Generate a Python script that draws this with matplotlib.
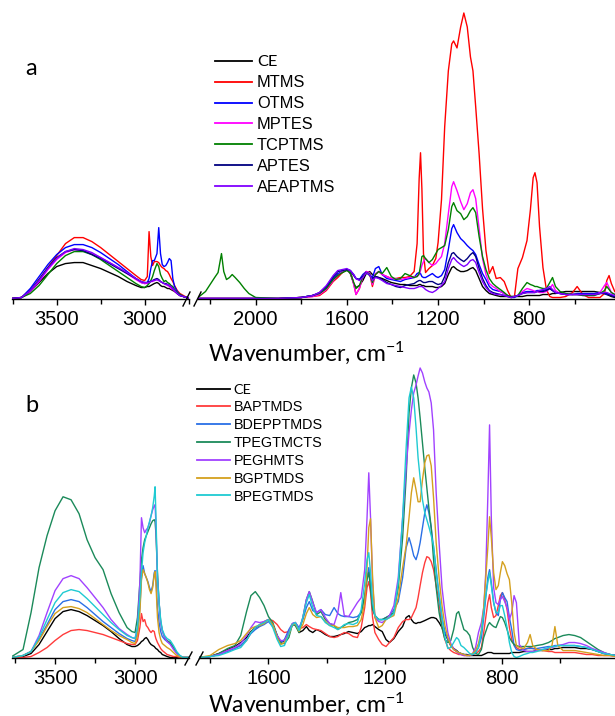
import matplotlib
matplotlib.use("Agg")
import matplotlib.pyplot as plt
from matplotlib.lines import Line2D
from matplotlib.ticker import FixedLocator

plt.rcParams["font.family"] = ["Liberation Sans", "DejaVu Sans"]
plt.rcParams["mathtext.fontset"] = "custom"
plt.rcParams["mathtext.rm"] = "Lato"
plt.rcParams["mathtext.it"] = "Lato:italic"

W_PX, H_PX = 615, 716

# ---------------- panel a ----------------
A_NAMES = ["CE", "MTMS", "OTMS", "MPTES", "TCPTMS", "APTES", "AEAPTMS"]
A_COLORS = ["#000000", "#ff0000", "#0000ff", "#ff00ff", "#008000", "#000080", "#8000ff"]

A_LEFT_WN = [3754, 3700, 3650, 3600, 3550, 3500, 3450, 3400, 3350, 3300,
             3250, 3200, 3150, 3100, 3050, 3020, 3000, 2985, 2975, 2965,
             2955, 2945, 2930, 2920, 2910, 2900, 2890, 2880, 2870, 2860,
             2850, 2840, 2830, 2815, 2800, 2780, 2760, 2740]
CE_AL = [0.0, 0.01, 0.07, 0.16, 0.25, 0.32, 0.35, 0.36, 0.36, 0.33,
         0.30, 0.26, 0.22, 0.17, 0.13, 0.11, 0.11, 0.12, 0.12, 0.13,
         0.14, 0.15, 0.16, 0.15, 0.13, 0.12, 0.12, 0.11, 0.10, 0.10,
         0.09, 0.08, 0.07, 0.05, 0.03, 0.02, 0.01, 0.0]
MTMS_AL = [0.0, 0.01, 0.08, 0.19, 0.31, 0.43, 0.55, 0.61, 0.61, 0.57,
           0.51, 0.44, 0.37, 0.30, 0.23, 0.19, 0.18, 0.22, 0.67, 0.42,
           0.33, 0.37, 0.37, 0.36, 0.33, 0.31, 0.30, 0.28, 0.27, 0.24,
           0.20, 0.17, 0.13, 0.08, 0.05, 0.03, 0.01, 0.0]
OTMS_AL = [0.0, 0.01, 0.10, 0.22, 0.34, 0.44, 0.51, 0.54, 0.54, 0.51,
           0.46, 0.40, 0.34, 0.27, 0.20, 0.16, 0.15, 0.16, 0.20, 0.30,
           0.38, 0.38, 0.45, 0.71, 0.45, 0.34, 0.32, 0.33, 0.36, 0.40,
           0.38, 0.20, 0.12, 0.07, 0.04, 0.02, 0.01, 0.0]
MPTES_AL = [0.0, 0.01, 0.07, 0.17, 0.29, 0.39, 0.46, 0.49, 0.48, 0.45,
            0.41, 0.36, 0.31, 0.25, 0.19, 0.16, 0.15, 0.15, 0.16, 0.17,
            0.17, 0.18, 0.19, 0.18, 0.17, 0.16, 0.15, 0.14, 0.13, 0.12,
            0.10, 0.09, 0.07, 0.05, 0.03, 0.02, 0.01, 0.0]
TCPTMS_AL = [0.0, 0.01, 0.05, 0.13, 0.24, 0.35, 0.43, 0.47, 0.47, 0.44,
             0.39, 0.33, 0.27, 0.21, 0.15, 0.12, 0.11, 0.13, 0.15, 0.18,
             0.22, 0.28, 0.35, 0.32, 0.24, 0.20, 0.17, 0.18, 0.16, 0.15,
             0.13, 0.12, 0.09, 0.06, 0.04, 0.02, 0.01, 0.0]
APTES_AL = [0.0, 0.01, 0.08, 0.19, 0.31, 0.41, 0.47, 0.49, 0.48, 0.44,
            0.40, 0.35, 0.30, 0.25, 0.20, 0.17, 0.16, 0.16, 0.17, 0.17,
            0.18, 0.19, 0.20, 0.19, 0.17, 0.16, 0.15, 0.15, 0.14, 0.13,
            0.12, 0.10, 0.08, 0.05, 0.03, 0.02, 0.01, 0.0]
AEAPTMS_AL = [0.0, 0.01, 0.08, 0.18, 0.30, 0.40, 0.47, 0.50, 0.49, 0.46,
              0.41, 0.36, 0.31, 0.26, 0.20, 0.17, 0.16, 0.16, 0.16, 0.17,
              0.18, 0.18, 0.19, 0.18, 0.17, 0.16, 0.15, 0.14, 0.14, 0.13,
              0.12, 0.10, 0.08, 0.05, 0.03, 0.02, 0.01, 0.0]

A_RIGHT_WN = [2253, 2220, 2200, 2180, 2165, 2150, 2140, 2128, 2115, 2103,
              2090, 2070, 2050, 2030, 2000, 1900, 1800, 1750, 1720, 1690,
              1660, 1640, 1620, 1600, 1585, 1570, 1560, 1545, 1530, 1515,
              1500, 1488, 1475, 1460, 1445, 1425, 1405, 1385, 1365, 1345,
              1325, 1305, 1292, 1283, 1277, 1271, 1264, 1255, 1240, 1225,
              1210, 1200, 1185, 1171, 1155, 1140, 1132, 1117, 1101, 1087,
              1072, 1058, 1047, 1035, 1020, 1005, 990, 975, 960, 945,
              927, 910, 895, 880, 865, 850, 830, 810, 795, 783,
              775, 766, 755, 740, 725, 710, 698, 685, 665, 640,
              610, 590, 565, 540, 515, 490, 470, 460, 450, 440,
              425]
CE_AR = [0, 0, 0, 0, 0, 0, 0, 0, 0, 0,
         0, 0, 0, 0, 0, 0, 0.01, 0.03, 0.05, 0.10,
         0.20, 0.24, 0.26, 0.29, 0.25, 0.15, 0.11, 0.13, 0.18, 0.25,
         0.27, 0.24, 0.22, 0.21, 0.20, 0.18, 0.16, 0.15, 0.14, 0.14,
         0.13, 0.13, 0.13, 0.14, 0.14, 0.13, 0.13, 0.12, 0.12, 0.12,
         0.11, 0.11, 0.12, 0.15, 0.24, 0.31, 0.32, 0.29, 0.27, 0.27,
         0.28, 0.30, 0.31, 0.28, 0.20, 0.12, 0.08, 0.05, 0.04, 0.03,
         0.02, 0.02, 0.02, 0.02, 0.02, 0.02, 0.02, 0.03, 0.03, 0.03,
         0.03, 0.03, 0.03, 0.04, 0.04, 0.04, 0.05, 0.05, 0.06, 0.07,
         0.07, 0.07, 0.07, 0.07, 0.07, 0.06, 0.05, 0.04, 0.03, 0.02,
         0.01]
MTMS_AR = [0, 0, 0, 0, 0, 0, 0, 0, 0, 0,
           0, 0, 0, 0, 0, 0, 0.01, 0.02, 0.03, 0.08,
           0.17, 0.21, 0.26, 0.29, 0.27, 0.15, 0.04, 0.10, 0.22, 0.27,
           0.25, 0.12, 0.24, 0.27, 0.24, 0.22, 0.20, 0.20, 0.21, 0.21,
           0.22, 0.27, 0.55, 1.20, 1.46, 1.10, 0.45, 0.26, 0.30, 0.33,
           0.40, 0.56, 0.99, 1.72, 2.28, 2.55, 2.58, 2.51, 2.72, 2.86,
           2.72, 2.42, 2.28, 1.92, 1.45, 0.90, 0.48, 0.25, 0.32, 0.20,
           0.21, 0.17, 0.08, 0.01, 0.02, 0.30, 0.41, 0.58, 0.89, 1.21,
           1.26, 1.16, 0.72, 0.31, 0.09, 0.02, 0.01, 0.01, 0.01, 0.02,
           0.06, 0.12, 0.04, 0.01, 0.01, 0.01, 0.05, 0.18, 0.23, 0.15,
           0.07]
OTMS_AR = [0, 0, 0, 0, 0, 0, 0, 0, 0, 0,
           0, 0, 0, 0, 0, 0, 0.01, 0.03, 0.05, 0.11,
           0.20, 0.25, 0.27, 0.29, 0.28, 0.24, 0.20, 0.19, 0.24, 0.27,
           0.24, 0.21, 0.30, 0.32, 0.24, 0.20, 0.19, 0.18, 0.17, 0.19,
           0.20, 0.21, 0.25, 0.26, 0.25, 0.22, 0.21, 0.21, 0.23, 0.25,
           0.22, 0.21, 0.23, 0.29, 0.49, 0.70, 0.74, 0.66, 0.60, 0.57,
           0.53, 0.50, 0.48, 0.44, 0.34, 0.25, 0.19, 0.12, 0.09, 0.08,
           0.07, 0.05, 0.03, 0.01, 0.01, 0.03, 0.06, 0.07, 0.07, 0.07,
           0.07, 0.08, 0.08, 0.08, 0.09, 0.10, 0.08, 0.06, 0.05, 0.04,
           0.04, 0.05, 0.05, 0.05, 0.05, 0.06, 0.05, 0.04, 0.04, 0.03,
           0.02]
MPTES_AR = [0, 0, 0, 0, 0, 0, 0, 0, 0, 0,
            0, 0, 0, 0, 0, 0, 0.01, 0.02, 0.04, 0.09,
            0.18, 0.23, 0.27, 0.29, 0.27, 0.14, 0.04, 0.10, 0.22, 0.27,
            0.26, 0.14, 0.25, 0.27, 0.24, 0.22, 0.20, 0.20, 0.19, 0.20,
            0.21, 0.22, 0.22, 0.24, 0.28, 0.33, 0.37, 0.40, 0.36, 0.33,
            0.35, 0.38, 0.42, 0.55, 0.85, 1.12, 1.17, 1.08, 0.97, 0.89,
            0.95, 1.06, 1.09, 1.00, 0.70, 0.40, 0.24, 0.15, 0.12, 0.10,
            0.07, 0.05, 0.03, 0.01, 0.02, 0.03, 0.07, 0.10, 0.09, 0.08,
            0.07, 0.07, 0.06, 0.06, 0.07, 0.10, 0.14, 0.08, 0.05, 0.04,
            0.04, 0.04, 0.03, 0.03, 0.03, 0.06, 0.13, 0.16, 0.11, 0.06,
            0.04]
TCPTMS_AR = [0.01, 0.07, 0.14, 0.21, 0.26, 0.45, 0.27, 0.19, 0.21, 0.24,
             0.21, 0.16, 0.10, 0.05, 0.01, 0.0, 0.01, 0.03, 0.05, 0.10,
             0.19, 0.23, 0.26, 0.28, 0.26, 0.16, 0.10, 0.13, 0.22, 0.26,
             0.25, 0.16, 0.24, 0.27, 0.25, 0.31, 0.22, 0.19, 0.20, 0.25,
             0.23, 0.21, 0.22, 0.25, 0.33, 0.42, 0.43, 0.40, 0.36, 0.39,
             0.45, 0.49, 0.51, 0.53, 0.69, 0.92, 0.96, 0.88, 0.85, 0.79,
             0.82, 0.88, 0.91, 0.86, 0.62, 0.42, 0.29, 0.20, 0.15, 0.12,
             0.09, 0.06, 0.03, 0.02, 0.02, 0.03, 0.10, 0.16, 0.14, 0.13,
             0.12, 0.12, 0.11, 0.10, 0.10, 0.16, 0.21, 0.12, 0.07, 0.05,
             0.04, 0.04, 0.03, 0.03, 0.03, 0.05, 0.08, 0.12, 0.09, 0.06,
             0.04]
APTES_AR = [0, 0, 0, 0, 0, 0, 0, 0, 0, 0,
            0, 0, 0, 0, 0, 0, 0.01, 0.03, 0.06, 0.12,
            0.22, 0.27, 0.28, 0.29, 0.28, 0.23, 0.20, 0.19, 0.22, 0.26,
            0.23, 0.20, 0.22, 0.21, 0.19, 0.16, 0.14, 0.12, 0.11, 0.13,
            0.14, 0.15, 0.17, 0.18, 0.18, 0.17, 0.16, 0.16, 0.17, 0.17,
            0.15, 0.14, 0.15, 0.22, 0.36, 0.45, 0.46, 0.42, 0.39, 0.37,
            0.40, 0.44, 0.46, 0.42, 0.30, 0.20, 0.13, 0.08, 0.06, 0.05,
            0.04, 0.03, 0.02, 0.01, 0.02, 0.03, 0.05, 0.06, 0.06, 0.06,
            0.06, 0.07, 0.07, 0.07, 0.08, 0.10, 0.08, 0.06, 0.05, 0.04,
            0.04, 0.04, 0.04, 0.04, 0.04, 0.05, 0.05, 0.05, 0.04, 0.03,
            0.02]
AEAPTMS_AR = [0, 0, 0, 0, 0, 0, 0, 0, 0, 0,
              0, 0, 0, 0, 0, 0, 0.01, 0.03, 0.06, 0.13,
              0.23, 0.28, 0.29, 0.30, 0.28, 0.24, 0.20, 0.18, 0.21, 0.26,
              0.24, 0.18, 0.21, 0.20, 0.18, 0.15, 0.14, 0.13, 0.12, 0.11,
              0.10, 0.10, 0.11, 0.12, 0.12, 0.12, 0.11, 0.09, 0.07, 0.06,
              0.08, 0.10, 0.13, 0.17, 0.30, 0.39, 0.41, 0.37, 0.34, 0.32,
              0.34, 0.38, 0.39, 0.36, 0.26, 0.17, 0.11, 0.07, 0.05, 0.04,
              0.04, 0.03, 0.02, 0.01, 0.02, 0.03, 0.05, 0.06, 0.06, 0.06,
              0.06, 0.07, 0.08, 0.09, 0.10, 0.12, 0.09, 0.06, 0.05, 0.04,
              0.04, 0.04, 0.04, 0.04, 0.04, 0.05, 0.06, 0.06, 0.05, 0.04,
              0.03]

# ---------------- panel b ----------------
B_NAMES = ["CE", "BAPTMDS", "BDEPPTMDS", "TPEGTMCTS", "PEGHMTS", "BGPTMDS", "BPEGTMDS"]
B_COLORS = ["#000000", "#ff3b3b", "#2a6fe6", "#1b8a5a", "#a142ff", "#d4a01e", "#1fcad2"]

B_LEFT_WN = [3770, 3700, 3650, 3600, 3550, 3500, 3450, 3400, 3350, 3300,
             3250, 3200, 3150, 3100, 3050, 3020, 3000, 2985, 2970, 2960,
             2950, 2940, 2930, 2920, 2910, 2900, 2890, 2880, 2875, 2870,
             2860, 2850, 2840, 2830, 2815, 2800, 2780, 2760, 2740, 2720,
             2700, 2680, 2660]
CE_BL = [0.0, 0.01, 0.04, 0.13, 0.26, 0.39, 0.46, 0.48, 0.46, 0.42,
         0.37, 0.32, 0.26, 0.19, 0.13, 0.11, 0.11, 0.12, 0.14, 0.16,
         0.17, 0.19, 0.20, 0.18, 0.15, 0.13, 0.12, 0.11, 0.10, 0.09,
         0.08, 0.06, 0.05, 0.03, 0.02, 0.01, 0.0, 0.0, 0.0, 0.0,
         0.0, 0.0, 0.0]
BAPTMDS_BL = [0.0, 0.0, 0.01, 0.05, 0.10, 0.17, 0.23, 0.27, 0.28, 0.27,
              0.25, 0.23, 0.20, 0.17, 0.14, 0.13, 0.13, 0.17, 0.30, 0.44,
              0.36, 0.38, 0.32, 0.30, 0.27, 0.25, 0.27, 0.26, 0.22, 0.19,
              0.15, 0.12, 0.09, 0.07, 0.05, 0.03, 0.02, 0.01, 0.01, 0.0,
              0.0, 0.0, 0.0]
BDEPPTMDS_BL = [0.0, 0.02, 0.06, 0.18, 0.33, 0.48, 0.56, 0.58, 0.56, 0.50,
                0.43, 0.36, 0.30, 0.24, 0.19, 0.17, 0.16, 0.25, 0.50, 0.80,
                0.92, 0.84, 0.80, 0.76, 0.70, 0.66, 0.72, 0.85, 0.87, 0.80,
                0.50, 0.35, 0.26, 0.21, 0.18, 0.16, 0.14, 0.10, 0.05, 0.02,
                0.0, 0.0, 0.0]
TPEGTMCTS_BL = [0.01, 0.08, 0.45, 0.90, 1.22, 1.47, 1.61, 1.58, 1.44, 1.18,
                1.00, 0.88, 0.64, 0.45, 0.30, 0.26, 0.25, 0.40, 0.75, 0.98,
                1.10, 1.18, 1.22, 1.26, 1.30, 1.34, 1.37, 1.38, 1.36, 1.25,
                0.85, 0.55, 0.36, 0.27, 0.20, 0.17, 0.15, 0.10, 0.05, 0.01,
                0.0, 0.0, 0.0]
PEGHMTS_BL = [0.0, 0.02, 0.06, 0.22, 0.45, 0.67, 0.79, 0.82, 0.79, 0.70,
              0.60, 0.50, 0.38, 0.29, 0.23, 0.20, 0.19, 0.30, 0.75, 1.40,
              1.30, 1.25, 1.28, 1.30, 1.35, 1.42, 1.48, 1.52, 1.53, 1.35,
              0.80, 0.55, 0.35, 0.27, 0.20, 0.16, 0.13, 0.08, 0.04, 0.01,
              0.0, 0.0, 0.0]
BGPTMDS_BL = [0.0, 0.02, 0.06, 0.17, 0.31, 0.44, 0.50, 0.51, 0.49, 0.45,
              0.39, 0.33, 0.27, 0.22, 0.18, 0.15, 0.14, 0.22, 0.45, 0.78,
              0.88, 0.84, 0.80, 0.75, 0.68, 0.64, 0.70, 0.83, 0.86, 0.75,
              0.40, 0.25, 0.18, 0.14, 0.12, 0.10, 0.08, 0.05, 0.02, 0.01,
              0.0, 0.0, 0.0]
BPEGTMDS_BL = [0.0, 0.02, 0.06, 0.20, 0.38, 0.55, 0.65, 0.68, 0.66, 0.59,
               0.51, 0.43, 0.35, 0.28, 0.22, 0.20, 0.19, 0.30, 0.60, 0.85,
               1.05, 1.15, 1.22, 1.30, 1.36, 1.42, 1.50, 1.62, 1.71, 1.45,
               0.80, 0.55, 0.38, 0.28, 0.22, 0.19, 0.17, 0.12, 0.06, 0.02,
               0.0, 0.0, 0.0]

B_RIGHT_WN = [1838, 1800, 1770, 1740, 1715, 1695, 1675, 1660, 1645, 1630,
              1615, 1600, 1585, 1570, 1558, 1545, 1530, 1518, 1508, 1495,
              1482, 1470, 1460, 1448, 1435, 1420, 1405, 1390, 1375, 1362,
              1352, 1340, 1325, 1310, 1295, 1282, 1270, 1262, 1256, 1250,
              1243, 1235, 1222, 1210, 1197, 1185, 1170, 1155, 1140, 1128,
              1118, 1110, 1102, 1094, 1087, 1080, 1072, 1064, 1057, 1050,
              1042, 1034, 1025, 1015, 1005, 995, 985, 975, 965, 955,
              948, 940, 930, 920, 910, 900, 890, 880, 870, 862,
              855, 848, 842, 836, 828, 820, 812, 805, 798, 790,
              782, 774, 766, 758, 750, 740, 725, 712, 703, 694,
              680, 660, 640, 628, 618, 608, 590, 570, 550, 530,
              510, 490, 470, 450, 430, 410]
CE_BR = [0.0, 0.01, 0.04, 0.08, 0.11, 0.15, 0.20, 0.26, 0.30, 0.32,
         0.35, 0.38, 0.33, 0.22, 0.15, 0.17, 0.25, 0.33, 0.35, 0.25,
         0.27, 0.31, 0.27, 0.25, 0.28, 0.26, 0.23, 0.21, 0.21, 0.22,
         0.23, 0.24, 0.26, 0.25, 0.24, 0.26, 0.30, 0.31, 0.32, 0.32,
         0.33, 0.31, 0.28, 0.26, 0.18, 0.15, 0.19, 0.26, 0.31, 0.40,
         0.42, 0.38, 0.35, 0.34, 0.35, 0.35, 0.36, 0.37, 0.38, 0.39,
         0.40, 0.40, 0.39, 0.35, 0.30, 0.24, 0.18, 0.12, 0.09, 0.07,
         0.05, 0.04, 0.03, 0.03, 0.02, 0.02, 0.02, 0.02, 0.02, 0.03,
         0.04, 0.05, 0.05, 0.05, 0.04, 0.04, 0.04, 0.04, 0.04, 0.04,
         0.04, 0.04, 0.05, 0.05, 0.05, 0.05, 0.06, 0.06, 0.06, 0.06,
         0.07, 0.07, 0.08, 0.08, 0.09, 0.09, 0.10, 0.10, 0.10, 0.09,
         0.09, 0.08, 0.06, 0.04, 0.03, 0.02]
BAPTMDS_BR = [0.0, 0.01, 0.03, 0.07, 0.10, 0.12, 0.17, 0.25, 0.30, 0.33,
              0.36, 0.38, 0.37, 0.33, 0.28, 0.25, 0.26, 0.32, 0.35, 0.29,
              0.30, 0.33, 0.31, 0.29, 0.28, 0.27, 0.24, 0.21, 0.20, 0.21,
              0.23, 0.25, 0.24, 0.21, 0.20, 0.30, 0.50, 0.70, 0.76, 0.65,
              0.40, 0.25, 0.18, 0.13, 0.11, 0.15, 0.20, 0.30, 0.36, 0.38,
              0.38, 0.40, 0.45, 0.50, 0.60, 0.72, 0.85, 0.95, 1.01, 1.00,
              0.96, 0.88, 0.72, 0.55, 0.30, 0.18, 0.10, 0.07, 0.05, 0.04,
              0.03, 0.03, 0.02, 0.02, 0.02, 0.03, 0.04, 0.06, 0.10, 0.25,
              0.40, 0.55, 0.63, 0.50, 0.40, 0.42, 0.52, 0.62, 0.65, 0.58,
              0.48, 0.30, 0.18, 0.13, 0.10, 0.08, 0.08, 0.09, 0.10, 0.09,
              0.08, 0.07, 0.06, 0.06, 0.05, 0.05, 0.05, 0.05, 0.05, 0.04,
              0.03, 0.03, 0.02, 0.02, 0.02, 0.01]
BDEPPTMDS_BR = [0.0, 0.01, 0.03, 0.06, 0.09, 0.12, 0.18, 0.24, 0.28, 0.31,
                0.33, 0.36, 0.31, 0.22, 0.15, 0.18, 0.28, 0.34, 0.35, 0.30,
                0.38, 0.50, 0.56, 0.47, 0.45, 0.48, 0.43, 0.42, 0.50, 0.44,
                0.42, 0.41, 0.41, 0.40, 0.41, 0.45, 0.60, 0.80, 0.90, 0.75,
                0.50, 0.42, 0.38, 0.38, 0.40, 0.42, 0.48, 0.56, 0.80, 1.10,
                1.20, 1.12, 1.02, 0.98, 1.05, 1.15, 1.30, 1.45, 1.53, 1.45,
                1.30, 1.10, 0.88, 0.62, 0.40, 0.26, 0.18, 0.12, 0.08, 0.06,
                0.05, 0.04, 0.03, 0.02, 0.02, 0.03, 0.05, 0.10, 0.20, 0.40,
                0.60, 0.80, 0.88, 0.75, 0.55, 0.45, 0.42, 0.58, 0.65, 0.60,
                0.56, 0.40, 0.28, 0.12, 0.08, 0.07, 0.08, 0.09, 0.09, 0.09,
                0.09, 0.10, 0.11, 0.11, 0.12, 0.12, 0.12, 0.12, 0.12, 0.11,
                0.10, 0.08, 0.06, 0.04, 0.03, 0.02]
TPEGTMCTS_BR = [0.0, 0.01, 0.04, 0.09, 0.12, 0.22, 0.46, 0.62, 0.66, 0.60,
                0.52, 0.41, 0.35, 0.22, 0.14, 0.14, 0.20, 0.33, 0.32, 0.25,
                0.40, 0.58, 0.66, 0.56, 0.43, 0.46, 0.38, 0.34, 0.32, 0.28,
                0.30, 0.32, 0.35, 0.36, 0.38, 0.45, 0.62, 0.78, 0.85, 0.70,
                0.48, 0.42, 0.38, 0.38, 0.40, 0.42, 0.45, 0.70, 1.20, 1.80,
                2.45, 2.70, 2.83, 2.75, 2.60, 2.40, 2.15, 1.90, 1.70, 1.50,
                1.30, 0.98, 0.70, 0.45, 0.30, 0.18, 0.15, 0.17, 0.28, 0.44,
                0.46, 0.38, 0.28, 0.26, 0.22, 0.10, 0.04, 0.03, 0.08, 0.20,
                0.26, 0.32, 0.35, 0.33, 0.31, 0.30, 0.36, 0.41, 0.40, 0.35,
                0.28, 0.20, 0.16, 0.13, 0.12, 0.11, 0.11, 0.11, 0.11, 0.11,
                0.12, 0.13, 0.15, 0.17, 0.19, 0.20, 0.22, 0.23, 0.22, 0.20,
                0.16, 0.12, 0.08, 0.05, 0.03, 0.02]
PEGHMTS_BR = [0.0, 0.01, 0.03, 0.07, 0.10, 0.14, 0.22, 0.30, 0.36, 0.35,
              0.36, 0.38, 0.32, 0.22, 0.17, 0.17, 0.25, 0.34, 0.35, 0.28,
              0.40, 0.58, 0.66, 0.55, 0.45, 0.48, 0.40, 0.34, 0.33, 0.45,
              0.65, 0.42, 0.41, 0.48, 0.55, 0.60, 0.88, 1.40, 1.85, 1.40,
              0.75, 0.40, 0.36, 0.35, 0.38, 0.42, 0.52, 0.80, 1.40, 1.90,
              2.25, 2.48, 2.65, 2.73, 2.82, 2.90, 2.85, 2.76, 2.70, 2.66,
              2.55, 2.28, 1.65, 1.15, 0.70, 0.45, 0.25, 0.14, 0.09, 0.06,
              0.04, 0.03, 0.02, 0.02, 0.02, 0.04, 0.10, 0.25, 0.35, 0.50,
              0.85, 1.60, 2.33, 1.40, 0.70, 0.55, 0.53, 0.58, 0.61, 0.56,
              0.50, 0.38, 0.45, 0.62, 0.55, 0.13, 0.07, 0.06, 0.06, 0.06,
              0.07, 0.08, 0.09, 0.10, 0.11, 0.12, 0.13, 0.15, 0.15, 0.14,
              0.12, 0.09, 0.07, 0.05, 0.03, 0.02]
BGPTMDS_BR = [0.0, 0.02, 0.08, 0.12, 0.14, 0.17, 0.24, 0.29, 0.31, 0.32,
              0.34, 0.38, 0.33, 0.20, 0.13, 0.15, 0.23, 0.33, 0.34, 0.26,
              0.33, 0.44, 0.50, 0.43, 0.40, 0.41, 0.36, 0.32, 0.32, 0.30,
              0.30, 0.30, 0.31, 0.31, 0.32, 0.38, 0.55, 0.90, 1.30, 1.39,
              0.80, 0.40, 0.30, 0.32, 0.38, 0.40, 0.42, 0.60, 0.90, 1.12,
              1.40, 1.65, 1.80, 1.68, 1.56, 1.56, 1.78, 1.95, 2.02, 2.03,
              1.92, 1.60, 1.15, 0.80, 0.52, 0.32, 0.20, 0.12, 0.08, 0.06,
              0.05, 0.04, 0.03, 0.02, 0.02, 0.04, 0.07, 0.14, 0.28, 0.50,
              0.80, 1.10, 1.41, 1.20, 0.85, 0.68, 0.72, 0.85, 0.96, 0.92,
              0.84, 0.78, 0.55, 0.25, 0.12, 0.10, 0.09, 0.15, 0.23, 0.12,
              0.08, 0.07, 0.07, 0.12, 0.31, 0.12, 0.07, 0.07, 0.07, 0.06,
              0.05, 0.04, 0.03, 0.02, 0.02, 0.01]
BPEGTMDS_BR = [0.0, 0.01, 0.02, 0.05, 0.08, 0.10, 0.17, 0.25, 0.30, 0.33,
               0.35, 0.38, 0.30, 0.18, 0.11, 0.12, 0.24, 0.33, 0.35, 0.27,
               0.40, 0.55, 0.63, 0.50, 0.42, 0.41, 0.35, 0.32, 0.30, 0.28,
               0.30, 0.33, 0.34, 0.33, 0.35, 0.48, 0.75, 0.98, 1.05, 0.85,
               0.55, 0.42, 0.38, 0.38, 0.38, 0.40, 0.44, 0.75, 1.40, 2.10,
               2.60, 2.71, 2.60, 2.30, 2.00, 1.80, 1.58, 1.45, 1.38, 1.31,
               1.22, 1.12, 0.85, 0.62, 0.40, 0.20, 0.09, 0.10, 0.15, 0.20,
               0.18, 0.12, 0.10, 0.07, 0.04, 0.03, 0.05, 0.10, 0.25, 0.45,
               0.62, 0.75, 0.85, 0.72, 0.55, 0.45, 0.45, 0.52, 0.52, 0.42,
               0.30, 0.15, 0.05, 0.01, 0.0, 0.01, 0.03, 0.04, 0.05, 0.05,
               0.06, 0.08, 0.10, 0.11, 0.11, 0.12, 0.12, 0.12, 0.12, 0.11,
               0.10, 0.08, 0.06, 0.04, 0.03, 0.02]


def px_rect(x0, y_top, x1, y_bot):
    return [x0 / W_PX, 1 - y_bot / H_PX, (x1 - x0) / W_PX, (y_bot - y_top) / H_PX]


def style_axis(ax, xlim, ylim, major, minor):
    ax.set_xlim(*xlim)
    ax.set_ylim(*ylim)
    for side in ("left", "right", "top"):
        ax.spines[side].set_visible(False)
    ax.spines["bottom"].set_linewidth(1.0)
    ax.set_yticks([])
    ax.xaxis.set_major_locator(FixedLocator(major))
    ax.xaxis.set_minor_locator(FixedLocator(minor))
    ax.tick_params(axis="x", which="major", direction="out", length=4.5, width=1.0,
                   labelsize=14.5, pad=3.5)
    ax.tick_params(axis="x", which="minor", direction="out", length=3.5, width=1.0)
    ax.patch.set_alpha(0)


def break_marks(fig, marks):
    for (x0, y0, x1, y1) in marks:
        fig.add_artist(Line2D([x0 / W_PX, x1 / W_PX], [1 - y0 / H_PX, 1 - y1 / H_PX],
                              transform=fig.transFigure, color="black", lw=1.0))


fig = plt.figure(figsize=(6.15, 7.16), dpi=100)

a_series_left = [CE_AL, MTMS_AL, OTMS_AL, MPTES_AL, TCPTMS_AL, APTES_AL, AEAPTMS_AL]
a_series_right = [CE_AR, MTMS_AR, OTMS_AR, MPTES_AR, TCPTMS_AR, APTES_AR, AEAPTMS_AR]
b_series_left = [CE_BL, BAPTMDS_BL, BDEPPTMDS_BL, TPEGTMCTS_BL, PEGHMTS_BL, BGPTMDS_BL, BPEGTMDS_BL]
b_series_right = [CE_BR, BAPTMDS_BR, BDEPPTMDS_BR, TPEGTMCTS_BR, PEGHMTS_BR, BGPTMDS_BR, BPEGTMDS_BR]

# panel a
axa_l = fig.add_axes(px_rect(12, 5, 189, 299))
axa_r = fig.add_axes(px_rect(198, 5, 615, 299))
for name, color, yl, yr in zip(A_NAMES, A_COLORS, a_series_left, a_series_right):
    axa_l.plot(A_LEFT_WN, yl, color=color, lw=1.0, label=name)
    axa_r.plot(A_RIGHT_WN, yr, color=color, lw=1.0)
style_axis(axa_l, (3754, 2748), (-0.005, 2.94), [3500, 3000], [3750, 3250, 2750])
style_axis(axa_r, (2253, 424), (-0.005, 2.94), [2000, 1600, 1200, 800], [2200, 1800, 1400, 1000, 600])

# panel b
axb_l = fig.add_axes(px_rect(12, 355, 189, 658))
axb_r = fig.add_axes(px_rect(199, 355, 615, 658))
for name, color, yl, yr in zip(B_NAMES, B_COLORS, b_series_left, b_series_right):
    axb_l.plot(B_LEFT_WN, yl, color=color, lw=1.0, label=name)
    axb_r.plot(B_RIGHT_WN, yr, color=color, lw=1.0)
style_axis(axb_l, (3769, 2663), (-0.005, 3.03), [3500, 3000], [3750, 3250, 2750])
style_axis(axb_r, (1838, 412), (-0.005, 3.03), [1600, 1200, 800], [1800, 1400, 1000, 600])

break_marks(fig, [(183, 306, 190, 292), (194, 306, 201, 292),
                  (185, 665, 192, 652), (196, 665, 203, 652)])

# axis titles and panel letters
title = "Wavenumber, cm$^{-1}$"
fig.text(306 / W_PX, 1 - 361 / H_PX, title, ha="center", va="baseline",
         family="Lato", fontsize=16.5)
fig.text(306 / W_PX, 1 - 711.5 / H_PX, title, ha="center", va="baseline",
         family="Lato", fontsize=16.5)
fig.text(25 / W_PX, 1 - 75 / H_PX, "a", ha="left", va="baseline", family="Lato", fontsize=17)
fig.text(25 / W_PX, 1 - 412 / H_PX, "b", ha="left", va="baseline", family="Lato", fontsize=17)

# legends
h, l = axa_l.get_legend_handles_labels()
leg_a = fig.legend(h, l, loc="upper left", bbox_to_anchor=(215 / W_PX, 1 - 55 / H_PX),
                   bbox_transform=fig.transFigure, frameon=False, fontsize=11.8,
                   borderpad=0, borderaxespad=0, handlelength=2.26, handletextpad=0.3,
                   labelspacing=0.36)
leg_a.get_texts()[0].set_family("Lato")
h, l = axb_l.get_legend_handles_labels()
leg_b = fig.legend(h, l, loc="upper left", bbox_to_anchor=(197 / W_PX, 1 - 384 / H_PX),
                   bbox_transform=fig.transFigure, frameon=False, fontsize=10.4,
                   borderpad=0, borderaxespad=0, handlelength=2.25, handletextpad=0.28,
                   labelspacing=0.27)
leg_b.get_texts()[0].set_family("Lato")
for leg in (leg_a, leg_b):
    for line in leg.get_lines():
        line.set_linewidth(1.3)

fig.savefig("out.png", dpi=100)
